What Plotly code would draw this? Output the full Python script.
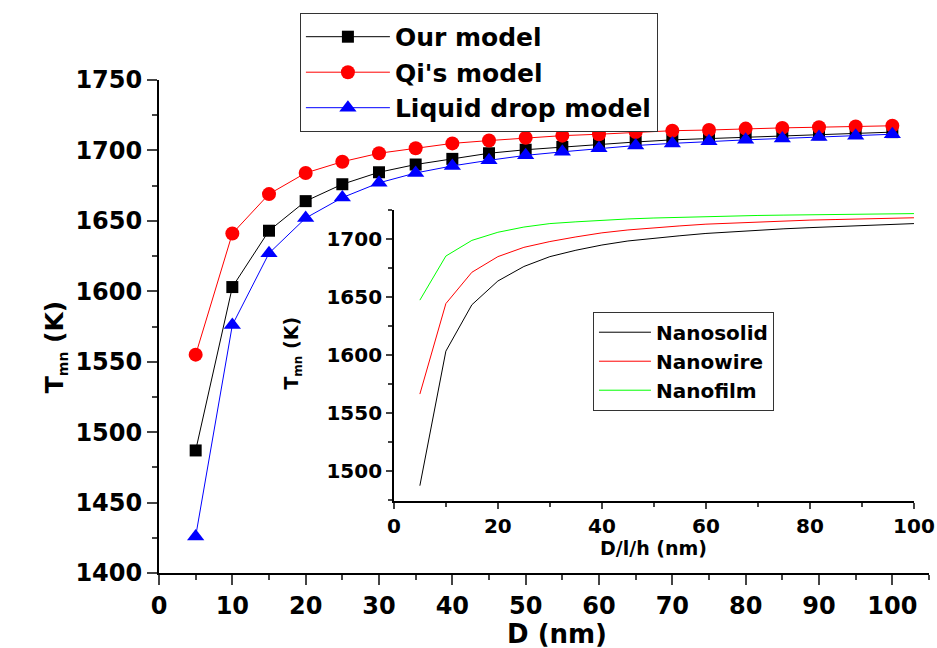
import plotly.graph_objects as go

# ---------------- data ----------------
D = [5, 10, 15, 20, 25, 30, 35, 40, 45, 50, 55, 60, 65, 70, 75, 80, 85, 90, 95, 100]
our_model = [1487, 1603, 1643, 1664, 1676, 1684.5, 1690, 1694, 1698, 1700.5,
             1702.5, 1704.5, 1706, 1707.5, 1708.5, 1709.5, 1710.5, 1711.5, 1712.5, 1713]
qi_model = [1555, 1641, 1669, 1684, 1692, 1698, 1701.5, 1705, 1707, 1709,
            1710.5, 1711.5, 1713, 1714, 1714.5, 1715.5, 1716, 1716.5, 1717, 1717.5]
liquid_drop = [1426, 1576, 1627, 1652, 1666.5, 1677, 1684, 1689, 1693, 1696.5,
               1699, 1701.5, 1703.5, 1705, 1706.5, 1707.5, 1708.5, 1709.5, 1710.5, 1711.5]

size_inset = [5, 10, 15, 20, 25, 30, 35, 40, 45, 50, 55, 60, 65, 70, 75, 80, 85, 90, 95, 100]
nanosolid = [1487, 1603, 1643, 1663.5, 1676, 1684.5, 1690, 1694.5, 1698, 1700.5,
             1702.5, 1704.5, 1706, 1707.5, 1708.5, 1709.5, 1710.5, 1711.5, 1712.5, 1713]
nanowire = [1566, 1644, 1671, 1684.5, 1692.5, 1697.5, 1701.5, 1705, 1707.5, 1709.5,
            1711, 1712.5, 1713.5, 1714.5, 1715.5, 1716, 1716.5, 1717, 1717.5, 1718]
nanofilm = [1647, 1685, 1698.5, 1705.5, 1710, 1713, 1714.5, 1716, 1717, 1717.8,
            1718.5, 1719, 1719.5, 1720, 1720.3, 1720.6, 1720.9, 1721.2, 1721.4, 1721.6]

main_x_ticks = [0, 10, 20, 30, 40, 50, 60, 70, 80, 90, 100]
main_y_ticks = [1400, 1450, 1500, 1550, 1600, 1650, 1700, 1750]
inset_x_ticks = [0, 20, 40, 60, 80, 100]
inset_y_ticks = [1500, 1550, 1600, 1650, 1700]

FONT = "DejaVu Sans"

fig = go.Figure()

fig.add_trace(go.Scatter(x=D, y=our_model, name="Our model", mode="lines+markers",
                         line=dict(color="black", width=1),
                         marker=dict(symbol="square", size=12, color="black"),
                         legend="legend"))
fig.add_trace(go.Scatter(x=D, y=qi_model, name="Qi's model", mode="lines+markers",
                         line=dict(color="#ff0000", width=1),
                         marker=dict(symbol="circle", size=14, color="#ff0000"),
                         legend="legend"))
fig.add_trace(go.Scatter(x=D, y=liquid_drop, name="Liquid drop model", mode="lines+markers",
                         line=dict(color="#0000ff", width=1),
                         marker=dict(symbol="triangle-up", size=15, color="#0000ff"),
                         legend="legend"))

fig.add_trace(go.Scatter(x=size_inset, y=nanosolid, name="Nanosolid", mode="lines",
                         line=dict(color="black", width=1), xaxis="x2", yaxis="y2",
                         legend="legend2"))
fig.add_trace(go.Scatter(x=size_inset, y=nanowire, name="Nanowire", mode="lines",
                         line=dict(color="#ff0000", width=1), xaxis="x2", yaxis="y2",
                         legend="legend2"))
fig.add_trace(go.Scatter(x=size_inset, y=nanofilm, name="Nanofilm", mode="lines",
                         line=dict(color="#00ff00", width=1), xaxis="x2", yaxis="y2",
                         legend="legend2"))

main_tickfont = dict(family=FONT, size=24, color="black", weight="bold")
inset_tickfont = dict(family=FONT, size=20, color="black", weight="bold")

fig.update_layout(
    width=937, height=648,
    margin=dict(l=159, r=8, t=80, b=75, autoexpand=False),
    paper_bgcolor="white", plot_bgcolor="white",
    xaxis=dict(range=[0, 105], domain=[0, 1], tickvals=main_x_ticks, ticks="outside",
               ticklen=10, tickwidth=2, showline=True, linewidth=2, linecolor="black",
               showgrid=False, zeroline=False, tickfont=main_tickfont, automargin=False,
               minor=dict(dtick=5, tick0=0, ticks="outside", ticklen=5, tickwidth=2, showgrid=False)),
    yaxis=dict(range=[1400, 1750], domain=[0, 1], tickvals=main_y_ticks, ticks="outside",
               ticklen=10, tickwidth=2, showline=True, linewidth=2, linecolor="black",
               showgrid=False, zeroline=False, tickfont=main_tickfont, automargin=False,
               minor=dict(dtick=25, tick0=1400, ticks="outside", ticklen=5, tickwidth=2, showgrid=False)),
    xaxis2=dict(range=[0, 100], domain=[0.305, 0.9805], anchor="y2", tickvals=inset_x_ticks,
                ticks="outside", ticklen=6, tickwidth=1.5, showline=True, linewidth=1.5,
                linecolor="black", showgrid=False, zeroline=False, tickfont=inset_tickfont,
                automargin=False,
                minor=dict(dtick=10, tick0=0, ticks="outside", ticklen=4, tickwidth=1.5, showgrid=False)),
    yaxis2=dict(range=[1474, 1725], domain=[0.1465, 0.737], anchor="x2", tickvals=inset_y_ticks,
                ticks="outside", ticklen=6, tickwidth=1.5, showline=True, linewidth=1.5,
                linecolor="black", showgrid=False, zeroline=False, tickfont=inset_tickfont,
                automargin=False,
                minor=dict(dtick=25, tick0=1475, ticks="outside", ticklen=4, tickwidth=1.5, showgrid=False)),
    legend=dict(x=0.183, y=1.136, xanchor="left", yanchor="top", bgcolor="white",
                bordercolor="#333333", borderwidth=1, itemwidth=84,
                font=dict(family=FONT, size=25, color="black", weight="bold"),
                tracegroupgap=0),
    legend2=dict(x=0.5636, y=0.530, xanchor="left", yanchor="top", bgcolor="white",
                 bordercolor="#333333", borderwidth=1, itemwidth=52,
                 font=dict(family=FONT, size=20, color="black", weight="bold")),
    showlegend=True,
    annotations=[
        dict(text="D (nm)", xref="paper", yref="paper", x=0.517, y=-0.124,
             xanchor="center", yanchor="middle", showarrow=False,
             font=dict(family=FONT, size=26, color="black", weight="bold")),
        dict(text="T<sub><span style='font-size:14px'>mn</span></sub> (K)", xref="paper",
             yref="paper", x=-0.135, y=0.458,
             xanchor="center", yanchor="middle", showarrow=False, textangle=-90,
             font=dict(family=FONT, size=25, color="black", weight="bold")),
        dict(text="D/l/h (nm)", xref="paper", yref="paper", x=0.6416, y=0.051,
             xanchor="center", yanchor="middle", showarrow=False,
             font=dict(family=FONT, size=19, color="black", weight="bold")),
        dict(text="T<sub><span style='font-size:12px'>mn</span></sub> (K)", xref="paper",
             yref="paper", x=0.174, y=0.447,
             xanchor="center", yanchor="middle", showarrow=False, textangle=-90,
             font=dict(family=FONT, size=19, color="black", weight="bold")),
    ],
)

fig.write_html("out.html",
               config={"displayModeBar": False},
               post_script="document.body.style.margin='0';document.body.style.overflow='hidden';")
